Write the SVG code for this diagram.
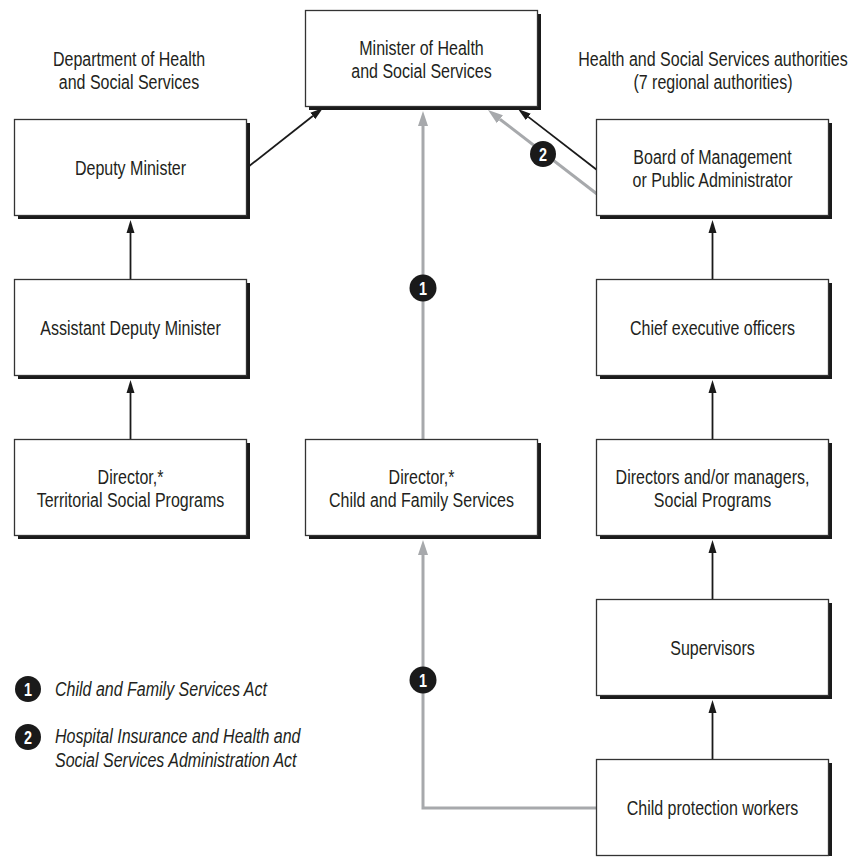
<svg xmlns="http://www.w3.org/2000/svg" width="859" height="857" viewBox="0 0 859 857">
<defs>
<style>
.shadow{fill:#1a1a1a}
.box{fill:#fff;stroke:#333;stroke-width:1.3}
.t{font-family:"Liberation Sans",Arial,sans-serif;font-size:20px;fill:#231f20;text-anchor:middle}
.it{font-family:"Liberation Sans",Arial,sans-serif;font-size:20px;fill:#231f20;font-style:italic}
.blk{fill:none;stroke:#1a1a1a;stroke-width:1.8}
.gry{fill:none;stroke:#a7a9ac;stroke-width:3}
.badge{fill:#1a1a1a}
.bt{font-family:"Liberation Sans",Arial,sans-serif;font-size:18px;font-weight:bold;fill:#fff;text-anchor:middle}
</style>
<marker id="ab" markerUnits="userSpaceOnUse" markerWidth="14" markerHeight="9" refX="0" refY="4" orient="auto" viewBox="0 0 14 8">
<path d="M0,0 L13,4 L0,8 z" fill="#1a1a1a"/>
</marker>
<marker id="ag" markerUnits="userSpaceOnUse" markerWidth="16" markerHeight="11" refX="0" refY="5" orient="auto" viewBox="0 0 16 10">
<path d="M0,0 L15,5 L0,10 z" fill="#a7a9ac"/>
</marker>
</defs>
<rect width="859" height="857" fill="#fff"/>

<g id="headers">
<text class="t" transform="translate(129,0) scale(0.8,1)"><tspan x="0" y="66">Department of Health</tspan><tspan x="0" y="89">and Social Services</tspan></text>
<text class="t" transform="translate(713,0) scale(0.8,1)"><tspan x="0" y="66">Health and Social Services authorities</tspan><tspan x="0" y="89">(7 regional authorities)</tspan></text>
</g>

<g id="connectors">
<path class="blk" d="M248,167 L312.8,116" marker-end="url(#ab)"/>
<path class="blk" d="M597,170 L528.3,116.9" marker-end="url(#ab)"/>
<path class="gry" d="M597,194 L499.9,119.2" marker-end="url(#ag)"/>
<path class="gry" d="M423,439.5 V126" marker-end="url(#ag)"/>
<path class="gry" d="M596.5,808 H423 V555" marker-end="url(#ag)"/>
<path class="blk" d="M130.5,279.5 V233" marker-end="url(#ab)"/>
<path class="blk" d="M130.5,439.5 V393" marker-end="url(#ab)"/>
<path class="blk" d="M712.5,279.5 V233" marker-end="url(#ab)"/>
<path class="blk" d="M712.5,439.5 V393" marker-end="url(#ab)"/>
<path class="blk" d="M712.5,599.5 V553" marker-end="url(#ab)"/>
<path class="blk" d="M712.5,759.5 V713" marker-end="url(#ab)"/>
</g>

<g id="badges">
<circle class="badge" cx="543" cy="154" r="13"/>
<text class="bt" transform="translate(543,160.5) scale(0.8,1)">2</text>
<circle class="badge" cx="423" cy="288" r="13.5"/>
<text class="bt" transform="translate(423,294.5) scale(0.8,1)">1</text>
<circle class="badge" cx="423" cy="680" r="13.5"/>
<text class="bt" transform="translate(423,686.5) scale(0.8,1)">1</text>
</g>

<g id="minister">
<rect class="shadow" x="309" y="14" width="232" height="96"/>
<rect class="box" x="305.5" y="10.5" width="232" height="96"/>
<text class="t" transform="translate(421.5,0) scale(0.8,1)"><tspan x="0" y="55">Minister of Health</tspan><tspan x="0" y="78">and Social Services</tspan></text>
</g>

<g id="deputy">
<rect class="shadow" x="18" y="123" width="232" height="96"/>
<rect class="box" x="14.5" y="119.5" width="232" height="96"/>
<text class="t" transform="translate(130.5,174.5) scale(0.8,1)">Deputy Minister</text>
</g>

<g id="assistant">
<rect class="shadow" x="18" y="283" width="232" height="96"/>
<rect class="box" x="14.5" y="279.5" width="232" height="96"/>
<text class="t" transform="translate(130.5,334.5) scale(0.8,1)">Assistant Deputy Minister</text>
</g>

<g id="director-territorial">
<rect class="shadow" x="18" y="443" width="232" height="96"/>
<rect class="box" x="14.5" y="439.5" width="232" height="96"/>
<text class="t" transform="translate(130.5,0) scale(0.8,1)"><tspan x="0" y="484">Director,*</tspan><tspan x="0" y="507">Territorial Social Programs</tspan></text>
</g>

<g id="director-child">
<rect class="shadow" x="309" y="443" width="232" height="96"/>
<rect class="box" x="305.5" y="439.5" width="232" height="96"/>
<text class="t" transform="translate(421.5,0) scale(0.8,1)"><tspan x="0" y="484">Director,*</tspan><tspan x="0" y="507">Child and Family Services</tspan></text>
</g>

<g id="board">
<rect class="shadow" x="600" y="123" width="232" height="96"/>
<rect class="box" x="596.5" y="119.5" width="232" height="96"/>
<text class="t" transform="translate(712.5,0) scale(0.8,1)"><tspan x="0" y="164">Board of Management</tspan><tspan x="0" y="187">or Public Administrator</tspan></text>
</g>

<g id="ceo">
<rect class="shadow" x="600" y="283" width="232" height="96"/>
<rect class="box" x="596.5" y="279.5" width="232" height="96"/>
<text class="t" transform="translate(712.5,334.5) scale(0.8,1)">Chief executive officers</text>
</g>

<g id="directors-managers">
<rect class="shadow" x="600" y="443" width="232" height="96"/>
<rect class="box" x="596.5" y="439.5" width="232" height="96"/>
<text class="t" transform="translate(712.5,0) scale(0.8,1)"><tspan x="0" y="484">Directors and/or managers,</tspan><tspan x="0" y="507">Social Programs</tspan></text>
</g>

<g id="supervisors">
<rect class="shadow" x="600" y="603" width="232" height="96"/>
<rect class="box" x="596.5" y="599.5" width="232" height="96"/>
<text class="t" transform="translate(712.5,654.5) scale(0.8,1)">Supervisors</text>
</g>

<g id="workers">
<rect class="shadow" x="600" y="763" width="232" height="93"/>
<rect class="box" x="596.5" y="759.5" width="232" height="96"/>
<text class="t" transform="translate(712.5,814.5) scale(0.8,1)">Child protection workers</text>
</g>

<g id="legend">
<circle class="badge" cx="28" cy="689" r="13"/>
<text class="bt" transform="translate(28,695.5) scale(0.8,1)">1</text>
<text class="it" transform="translate(55,696) scale(0.8,1)">Child and Family Services Act</text>
<circle class="badge" cx="28" cy="737" r="13"/>
<text class="bt" transform="translate(28,743.5) scale(0.8,1)">2</text>
<text class="it" transform="translate(55,0) scale(0.8,1)"><tspan x="0" y="743">Hospital Insurance and Health and</tspan><tspan x="0" y="767">Social Services Administration Act</tspan></text>
</g>
</svg>
